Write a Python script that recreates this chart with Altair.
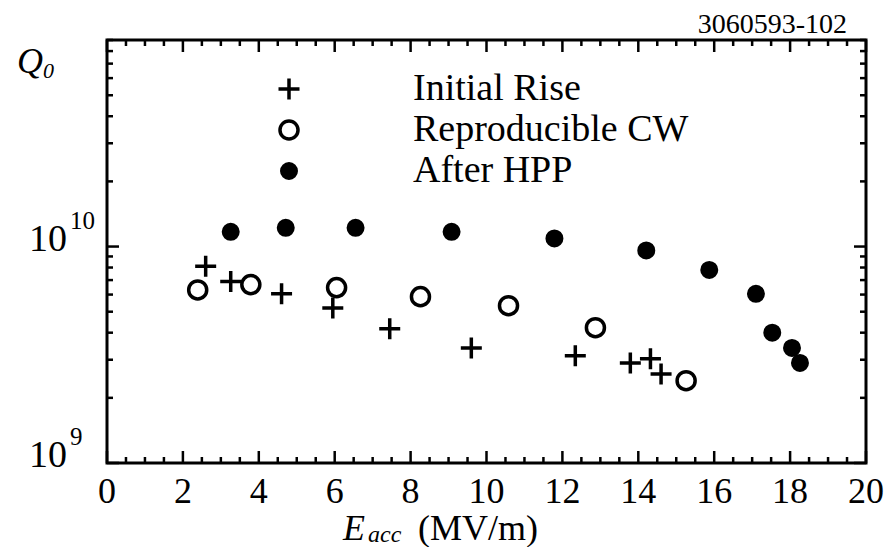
import altair as alt
import pandas as pd

# ---- data ----
rise_e = [2.6, 3.26, 4.6, 5.95, 7.45, 9.6, 12.34, 13.79, 14.32, 14.6]
rise_q = [8.1e9, 6.9e9, 6.05e9, 5.2e9, 4.17e9, 3.4e9, 3.13e9, 2.9e9, 3.03e9, 2.58e9]
cw_e = [2.39, 3.79, 6.05, 8.26, 10.58, 12.87, 15.26]
cw_q = [6.3e9, 6.67e9, 6.46e9, 5.87e9, 5.33e9, 4.22e9, 2.4e9]
hpp_e = [3.26, 4.71, 6.55, 9.08, 11.79, 14.21, 15.87, 17.1, 17.53, 18.05, 18.26]
hpp_q = [1.17e10, 1.22e10, 1.22e10, 1.17e10, 1.09e10, 9.6e9, 7.8e9, 6.05e9, 4.0e9, 3.4e9, 2.9e9]

series_names = ["Initial Rise", "Reproducible CW", "After HPP"]
x_major = [0, 2, 4, 6, 8, 10, 12, 14, 16, 18, 20]
x_labels = [str(v) for v in x_major]
x_minor = [v / 2 for v in range(1, 40) if v % 4 != 0]
y_major = [1e9, 1e10]
y_minor = [m * 1e9 for m in range(2, 10)] + [m * 1e10 for m in range(2, 10)]
y_label_base = ["10", "10"]
y_label_exp = ["9", "10"]

W, H = 759, 423
FONT = "Liberation Serif, Times New Roman, serif"

rows = []
for n, es, qs in [(series_names[0], rise_e, rise_q), (series_names[1], cw_e, cw_q), (series_names[2], hpp_e, hpp_q)]:
    for e, q in zip(es, qs):
        rows.append({"series": n, "E": e, "Q": q})
df = pd.DataFrame(rows)

xs = alt.Scale(domain=[0, 20], nice=False, zero=False)
ys = alt.Scale(type="log", domain=[1e9, 9e10], nice=False)

plus_path = "M-1,0H1M0,-1V1"

points = alt.Chart(df).mark_point(stroke="black", strokeWidth=3.5, opacity=1).encode(
    x=alt.X("E:Q", scale=xs, axis=None),
    y=alt.Y("Q:Q", scale=ys, axis=None),
    shape=alt.Shape("series:N", scale=alt.Scale(domain=series_names, range=[plus_path, "circle", "circle"]),
                    legend=alt.Legend(title=None, orient="none", legendX=163, legendY=30,
                                      labelFont=FONT, labelFontSize=38, labelColor="black",
                                      labelLimit=0, labelOffset=105, rowPadding=3,
                                      symbolStrokeWidth=3.5, symbolStrokeColor="black")),
    fill=alt.Fill("series:N", scale=alt.Scale(domain=series_names, range=["transparent", "white", "black"])),
    size=alt.Size("series:N", scale=alt.Scale(domain=series_names, range=[441, 210, 306])),
)

xmaj_df = pd.DataFrame({"E": x_major, "lab": x_labels})
xmin_df = pd.DataFrame({"E": x_minor})
ymaj_df = pd.DataFrame({"Q": y_major})
ymin_df = pd.DataFrame({"Q": y_minor})

def xticks(d, L):
    b = alt.Chart(d).mark_rule(color="black", strokeWidth=2.5).encode(
        x=alt.X("E:Q", scale=xs, axis=None), y=alt.value(H), y2=alt.value(H - L))
    t = alt.Chart(d).mark_rule(color="black", strokeWidth=2.5).encode(
        x=alt.X("E:Q", scale=xs, axis=None), y=alt.value(0), y2=alt.value(L))
    return [b, t]

def yticks(d, L):
    l = alt.Chart(d).mark_rule(color="black", strokeWidth=2.5).encode(
        y=alt.Y("Q:Q", scale=ys, axis=None), x=alt.value(0), x2=alt.value(L))
    r = alt.Chart(d).mark_rule(color="black", strokeWidth=2.5).encode(
        y=alt.Y("Q:Q", scale=ys, axis=None), x=alt.value(W), x2=alt.value(W - L))
    return [l, r]

xlab = alt.Chart(xmaj_df).mark_text(font=FONT, fontSize=36, align="center", baseline="alphabetic", color="black").encode(
    x=alt.X("E:Q", scale=xs, axis=None), y=alt.value(H + 40), text="lab:N")

ylab_df = pd.DataFrame({"Q": y_major, "base": y_label_base, "exp": y_label_exp})
ylab = alt.Chart(ylab_df).mark_text(font=FONT, fontSize=38, align="right", baseline="alphabetic", dy=4, color="black").encode(
    y=alt.Y("Q:Q", scale=ys, axis=None), x=alt.value(-40), text="base:N")
yexp = alt.Chart(ylab_df).mark_text(font=FONT, fontSize=25, align="left", baseline="alphabetic", dy=-18, color="black").encode(
    y=alt.Y("Q:Q", scale=ys, axis=None), x=alt.value(-37), text="exp:N")

one = pd.DataFrame({"a": [0]})
def txt(s, x, y, size, italic=False, align="left"):
    return alt.Chart(one).mark_text(font=FONT, fontSize=size, fontStyle="italic" if italic else "normal",
                                    align=align, baseline="alphabetic", color="black", text=s).encode(
        x=alt.value(x), y=alt.value(y))

titles = [
    txt("E", 236, 500, 36, italic=True),
    txt("acc", 261, 502, 24, italic=True),
    txt("(MV/m)", 311, 500, 36),
    txt("Q", -90, 33, 36, italic=True),
    txt("0", -64, 38, 22, italic=True),
    txt("3060593-102", 740, -7, 28, align="right"),
]

layers = xticks(xmaj_df, 12) + xticks(xmin_df, 6) + yticks(ymaj_df, 12) + yticks(ymin_df, 6) + [xlab, ylab, yexp] + titles + [points]

chart = alt.layer(*layers).properties(
    width=W, height=H,
    background="white",
    autosize=alt.AutoSizeParams(type="none"),
    padding={"left": 99, "top": 32, "right": 18, "bottom": 84},
).configure_view(stroke="black", strokeWidth=3)

chart.save("out.html", embed_options={"renderer": "svg", "actions": False})
